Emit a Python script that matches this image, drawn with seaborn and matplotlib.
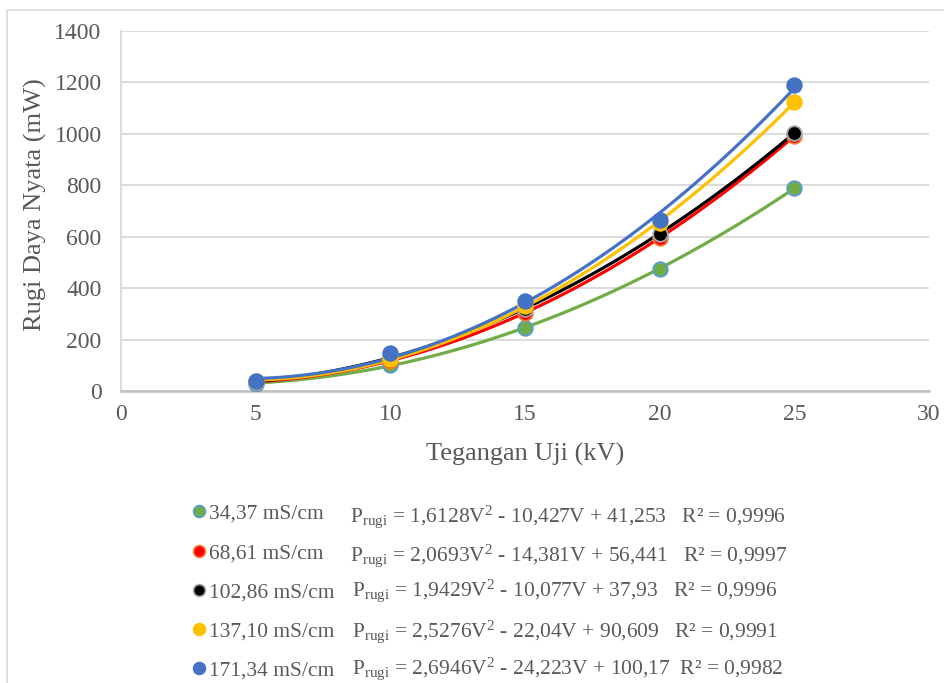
import numpy as np
import pandas as pd
import matplotlib
matplotlib.use("Agg")
import matplotlib.pyplot as plt
import seaborn as sns
from matplotlib.lines import Line2D

# ---- data ----
voltage = [5, 10, 15, 20, 25]
series_labels = ["34,37 mS/cm", "68,61 mS/cm", "102,86 mS/cm", "137,10 mS/cm", "171,34 mS/cm"]
loss_34 = [29, 103, 246, 473, 790]
loss_68 = [36, 118, 305, 595, 992]
loss_102 = [35, 135, 320, 610, 1005]
loss_137 = [40, 125, 330, 655, 1125]
loss_171 = [38, 148, 350, 665, 1190]
equations = [
    r"$\mathregular{P_{rugi}}$ = 1,6128V$\mathregular{^{2}}$ - 10,427V + 41,253   R² = 0,9996",
    r"$\mathregular{P_{rugi}}$ = 2,0693V$\mathregular{^{2}}$ - 14,381V + 56,441   R² = 0,9997",
    r"$\mathregular{P_{rugi}}$ = 1,9429V$\mathregular{^{2}}$ - 10,077V + 37,93   R² = 0,9996",
    r"$\mathregular{P_{rugi}}$ = 2,5276V$\mathregular{^{2}}$ - 22,04V + 90,609   R² = 0,9991",
    r"$\mathregular{P_{rugi}}$ = 2,6946V$\mathregular{^{2}}$ - 24,223V + 100,17  R² = 0,9982",
]
x_ticks = [0, 5, 10, 15, 20, 25, 30]
y_ticks = [0, 200, 400, 600, 800, 1000, 1200, 1400]

line_colors = ["#70AD47", "#FF0000", "#000000", "#FFC000", "#4472C4"]
face_colors = ["#70AD47", "#FF0000", "#000000", "#FFC000", "#4472C4"]
edge_colors = ["#5B9BD5", "#ED7D31", "#A5A5A5", "#FFC000", "#4472C4"]

all_loss = [loss_34, loss_68, loss_102, loss_137, loss_171]
df = pd.DataFrame({
    "V": voltage * 5,
    "P": sum(all_loss, []),
    "series": [lab for lab in series_labels for _ in voltage],
})

sns.set_theme(style="white")
plt.rcParams["font.family"] = ["Liberation Serif", "DejaVu Serif"]
plt.rcParams["mathtext.fontset"] = "custom"
plt.rcParams["mathtext.rm"] = "Liberation Serif"

W, H = 944, 683
fig = plt.figure(figsize=(W / 100, H / 100), dpi=100)
ax = fig.add_axes([121 / W, 1 - 391 / H, (929 - 121) / W, (391 - 31) / H])

txt = "#595959"
for i, lab in enumerate(series_labels):
    sub = df[df["series"] == lab]
    sns.regplot(data=sub, x="V", y="P", order=2, ci=None, scatter=False, truncate=True,
                ax=ax, line_kws=dict(color=line_colors[i], lw=2.3, zorder=3 + i * 0.1,
                                     solid_capstyle="round"))
for i, lab in enumerate(series_labels):
    sub = df[df["series"] == lab]
    sns.scatterplot(data=sub, x="V", y="P", ax=ax, s=110, color=face_colors[i],
                    edgecolor=edge_colors[i], linewidth=1.3, zorder=5 + i * 0.1, legend=False)

ax.set_xlim(0, 30)
ax.set_ylim(0, 1400)
ax.set_xticks(x_ticks)
ax.set_yticks(y_ticks)
ax.grid(axis="y", color="#D9D9D9", lw=1.3)
ax.set_axisbelow(True)
for s in ["top", "right"]:
    ax.spines[s].set_visible(False)
ax.spines["left"].set_color("#D9D9D9")
ax.spines["left"].set_linewidth(1.3)
ax.spines["bottom"].set_color("#BFBFBF")
ax.spines["bottom"].set_linewidth(1.8)
ax.tick_params(axis="both", length=0, labelsize=17, labelcolor=txt)
ax.tick_params(axis="y", pad=14)
ax.tick_params(axis="x", pad=9)
ax.set_xlabel("Tegangan Uji (kV)", fontsize=19, color=txt)
ax.set_ylabel("Rugi Daya Nyata (mW)", fontsize=19, color=txt)
ax.xaxis.set_label_coords(0.5, -0.145)
ax.yaxis.set_label_coords(-0.092, 0.517)

# legend
handles = [Line2D([], [], ls="none", marker="o", markersize=8.5, markerfacecolor=face_colors[i],
                  markeredgecolor=edge_colors[i], markeredgewidth=1.2) for i in range(5)]
leg = fig.legend(handles, series_labels, loc="upper left",
                 bbox_to_anchor=(177 / W, 1 - 493 / H), frameon=False, fontsize=15.5,
                 handletextpad=0.0, handlelength=1.0, labelspacing=0.89, borderpad=0)
for t in leg.get_texts():
    t.set_color(txt)

eq_y = [517, 556, 591, 632, 669]
eq_x = [350, 350, 352, 352, 352]
for i, eq in enumerate(equations):
    fig.text(eq_x[i] / W, 1 - eq_y[i] / H, eq, fontsize=15.5, color=txt, va="center", ha="left")

# outer chart frame
fig.add_artist(Line2D([7 / W, 1], [1 - 10 / H, 1 - 10 / H], color="#D9D9D9", lw=1.2,
                      transform=fig.transFigure))
fig.add_artist(Line2D([7 / W, 7 / W], [0, 1 - 10 / H], color="#D9D9D9", lw=1.2,
                      transform=fig.transFigure))

fig.savefig("out.png", dpi=100)
